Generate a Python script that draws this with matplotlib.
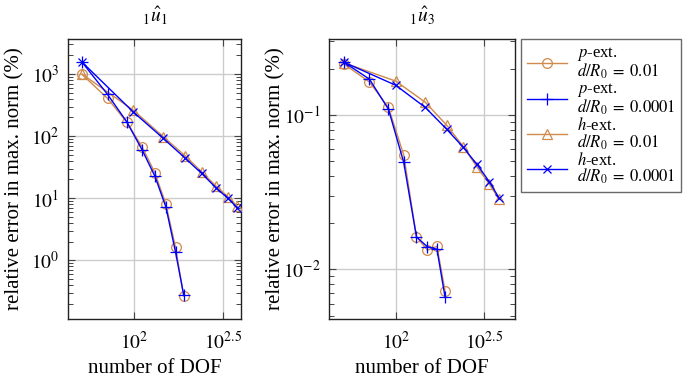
import matplotlib
matplotlib.use("Agg")
import matplotlib.pyplot as plt
from matplotlib.ticker import FixedLocator, FixedFormatter, LogLocator, NullFormatter, NullLocator

plt.rcParams['font.family'] = ['Liberation Serif', 'DejaVu Serif']
plt.rcParams['mathtext.fontset'] = 'stix'

# ---- data ----
dof_p = [51, 71, 91, 111, 131, 151, 171, 190]
dof_h = [51, 99, 146, 194, 240, 288, 336, 381]
dof_h3 = [51, 100, 147, 194, 241, 287, 338, 383]

u1_p_001 = [990, 405, 168, 67, 25.6, 8.0, 1.62, 0.265]
u1_p_00001 = [1560, 470, 170, 60, 22.6, 7.2, 1.36, 0.28]
u1_h_001 = [1000, 262, 98, 48, 26.5, 15.8, 10.6, 7.4]
u1_h_00001 = [1560, 245, 92, 44, 25, 14.8, 10.0, 7.0]

u3_p_001 = [0.214, 0.164, 0.112, 0.055, 0.0163, 0.0133, 0.0141, 0.00724]
u3_p_00001 = [0.22, 0.171, 0.109, 0.0493, 0.0162, 0.0140, 0.0135, 0.0066]
u3_h_001 = [0.218, 0.166, 0.121, 0.086, 0.0624, 0.0462, 0.0357, 0.0285]
u3_h_00001 = [0.22, 0.156, 0.112, 0.081, 0.0617, 0.048, 0.037, 0.0291]

titles = [r'${}_{1}\hat{u}_{1}$', r'${}_{1}\hat{u}_{3}$']
legend_labels = ['$p$-ext.\n$d/R_0\\;=\\;0.01$', '$p$-ext.\n$d/R_0\\;=\\;0.0001$',
                 '$h$-ext.\n$d/R_0\\;=\\;0.01$', '$h$-ext.\n$d/R_0\\;=\\;0.0001$']
xtick_vals = [100, 10 ** 2.5]
xtick_labels = [r'$10^{2}$', r'$10^{2.5}$']

ORANGE = '#CF8A4C'
BLUE = '#0000FF'

W, H = 685, 377
fig = plt.figure(figsize=(W / 100, H / 100), dpi=100)

def box(l, t, r, b):
    return [l / W, 1 - b / H, (r - l) / W, (b - t) / H]

ax1 = fig.add_axes(box(68, 39, 241, 319))
ax2 = fig.add_axes(box(329, 39, 515, 319))

datasets = [
    (ax1, u1_p_001, u1_p_00001, u1_h_001, u1_h_00001, dof_h,
     (10 ** 1.629, 10 ** 2.601), (10 ** -0.947, 10 ** 3.565),
     [1, 10, 100, 1000], [r'$10^{0}$', r'$10^{1}$', r'$10^{2}$', r'$10^{3}$']),
    (ax2, u3_p_001, u3_p_00001, u3_h_001, u3_h_00001, dof_h3,
     (10 ** 1.623, 10 ** 2.674), (10 ** -2.322, 10 ** -0.507),
     [0.01, 0.1], [r'$10^{-2}$', r'$10^{-1}$']),
]

handles = []
for i, (ax, pa, pb, ha, hb, dh, xl, yl, yt, ytl) in enumerate(datasets):
    ax.set_xscale('log')
    ax.set_yscale('log')
    l1, = ax.plot(dof_p, pa, color=ORANGE, lw=1.0, marker='o', ms=7, mfc='none', mew=0.9, zorder=3)
    l2, = ax.plot(dof_p, pb, color=BLUE, lw=1.0, marker='+', ms=8, mew=0.9, zorder=4)
    l3, = ax.plot(dh, ha, color=ORANGE, lw=1.0, marker='^', ms=6.5, mfc='none', mew=0.9, zorder=3)
    l4, = ax.plot(dh, hb, color=BLUE, lw=1.0, marker='x', ms=6, mew=0.9, zorder=4)
    if i == 0:
        handles = [l1, l2, l3, l4]
    ax.set_xlim(*xl)
    ax.set_ylim(*yl)
    ax.xaxis.set_major_locator(FixedLocator(xtick_vals))
    ax.xaxis.set_major_formatter(FixedFormatter(xtick_labels))
    ax.xaxis.set_minor_locator(NullLocator())
    ax.yaxis.set_major_locator(FixedLocator(yt))
    ax.yaxis.set_major_formatter(FixedFormatter(ytl))
    ax.yaxis.set_minor_locator(LogLocator(base=10, subs=range(2, 10), numticks=20))
    ax.yaxis.set_minor_formatter(NullFormatter())
    ax.tick_params(which='both', direction='in', top=True, right=True, labelsize=14, color='#444444')
    ax.tick_params(which='major', length=5, width=0.8, pad=6)
    ax.tick_params(axis='x', which='major', pad=9)
    ax.tick_params(which='minor', length=3.5, width=0.7)
    ax.grid(True, which='major', color='#CCCCCC', lw=1.0)
    ax.set_axisbelow(True)
    for s in ax.spines.values():
        s.set_color('#222222')
        s.set_linewidth(1.0)
    ax.set_title(titles[i], fontsize=14, pad=12)
    ax.set_xlabel('number of DOF', fontsize=15)
    ax.set_ylabel('relative error in max. norm (%)', fontsize=15)
    ax.xaxis.set_label_coords(0.5, -0.142)

ax1.yaxis.set_label_coords(-0.25, 0.5)
ax2.yaxis.set_label_coords(-0.235, 0.5)

leg = fig.legend(handles, legend_labels, loc='upper left',
                 bbox_to_anchor=(521 / W, 1 - 39 / H), fontsize=12,
                 frameon=True, fancybox=False, edgecolor='#444444',
                 handlelength=2.4, labelspacing=0.0, borderpad=0.35,
                 handletextpad=0.6, borderaxespad=0.0)
for t in leg.get_texts():
    t.set_linespacing(0.9)
leg.get_frame().set_linewidth(1.0)

fig.savefig('out.png', dpi=100)
